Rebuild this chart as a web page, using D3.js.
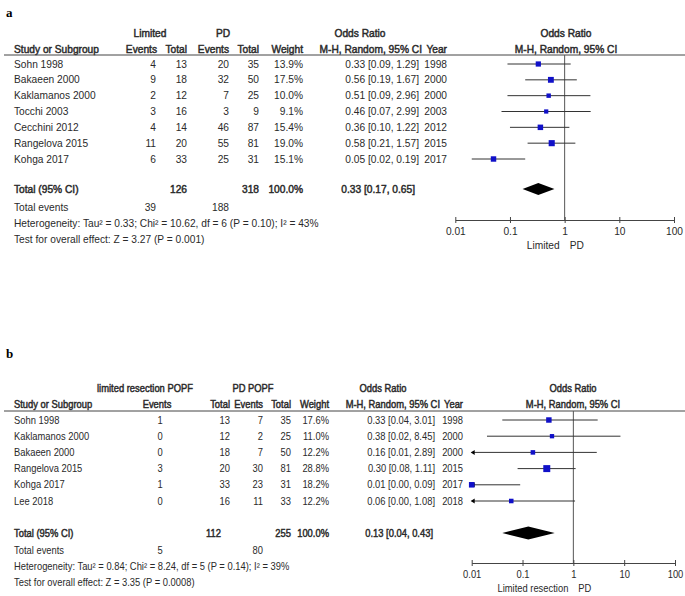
<!DOCTYPE html>
<html><head><meta charset="utf-8">
<script src="https://cdn.jsdelivr.net/npm/d3@7"></script>
<style>
body{margin:0;background:#fff;}
svg{display:block;}
text{font-family:"Liberation Sans",Arial,sans-serif;fill:#2a2a2a;}
.b{stroke:#2a2a2a;stroke-width:0.45px;}
</style></head>
<body>
<svg id="c" width="685" height="596"></svg>
<script>
// ---------- Panel a data ----------
const studiesA = ["Sohn 1998","Bakaeen 2000","Kaklamanos 2000","Tocchi 2003","Cecchini 2012","Rangelova 2015","Kohga 2017"];
const limEventsA = [4,9,2,3,4,11,6];
const limTotalA = [13,18,12,16,14,20,33];
const pdEventsA = [20,32,7,3,46,55,25];
const pdTotalA = [35,50,25,9,87,81,31];
const weightA = [13.9,17.5,10.0,9.1,15.4,19.0,15.1];
const orA = [0.33,0.56,0.51,0.46,0.36,0.58,0.05];
const lowA = [0.09,0.19,0.09,0.07,0.10,0.21,0.02];
const highA = [1.29,1.67,2.96,2.99,1.22,1.57,0.19];
const yearA = [1998,2000,2000,2003,2012,2015,2017];
const totalA = {lim:126, pd:318, limEv:39, pdEv:188, or:0.33, lo:0.17, hi:0.65};
const hetA = "Heterogeneity: Tau² = 0.33; Chi² = 10.62, df = 6 (P = 0.10); I² = 43%";
const testA = "Test for overall effect: Z = 3.27 (P = 0.001)";

// ---------- Panel b data ----------
const studiesB = ["Sohn 1998","Kaklamanos 2000","Bakaeen 2000","Rangelova 2015","Kohga 2017","Lee 2018"];
const limEventsB = [1,0,0,3,1,0];
const limTotalB = [13,12,18,20,33,16];
const pdEventsB = [7,2,7,30,23,11];
const pdTotalB = [35,25,50,81,31,33];
const weightB = [17.6,11.0,12.2,28.8,18.2,12.2];
const orB = [0.33,0.38,0.16,0.30,0.01,0.06];
const lowB = [0.04,0.02,0.01,0.08,0.00,0.00];
const highB = [3.01,8.45,2.89,1.11,0.09,1.08];
const yearB = [1998,2000,2000,2015,2017,2018];
const totalB = {lim:112, pd:255, limEv:5, pdEv:80, or:0.13, lo:0.04, hi:0.43};
const hetB = "Heterogeneity: Tau² = 0.84; Chi² = 8.24, df = 5 (P = 0.14); I² = 39%";
const testB = "Test for overall effect: Z = 3.35 (P = 0.0008)";

const tickVals = [0.01,0.1,1,10,100];

const svg = d3.select("#c");
const fmt = d3.format(".2f");
const fmtW = d3.format(".1f");

function panel(cfg){
  const g = svg.append("g").style("font-size",cfg.fs+"px");
  const n = cfg.studies.length;
  const y = d3.scaleLinear().domain([0,n-1]).range([cfg.rowTop,cfg.rowBot]);
  const x = d3.scaleLog().domain([0.01,100]).range([cfg.x0,cfg.x1]).clamp(true);
  const C = cfg.cols;
  const sx = cfg.sx;
  const t = (xx,yy,s,anchor,cls)=>g.append("text")
      .attr("transform",`translate(${xx},${yy}) scale(${sx},1)`)
      .attr("dy","0.35em")
      .attr("text-anchor",anchor||"start").attr("class",cls||null).text(s);

  // panel letter
  g.append("text").attr("x",6).attr("y",cfg.letterY).attr("dy","0.35em")
    .style("font-family","'Liberation Serif',serif").style("font-size","13px").style("font-weight","bold").style("fill","#000")
    .text(cfg.letter);

  // headers
  t(C.grp1C,cfg.h1,cfg.grp1,"middle","b");
  t(C.grp2C,cfg.h1,cfg.grp2,"middle","b");
  t(C.orC,cfg.h1,"Odds Ratio","middle","b");
  t(C.plotC,cfg.h1,"Odds Ratio","middle","b");
  t(C.study,cfg.h2,"Study or Subgroup","start","b");
  t(C.ev1,cfg.h2,"Events",C.ev1Anchor,"b");
  t(C.tot1,cfg.h2,"Total","end","b");
  t(C.ev2,cfg.h2,"Events","end","b");
  t(C.tot2,cfg.h2,"Total","end","b");
  t(C.w,cfg.h2,"Weight","end","b");
  t(C.orH,cfg.h2,"M-H, Random, 95% CI","end","b");
  t(C.yr,cfg.h2,"Year","end","b");
  t(C.plotC,cfg.h2,"M-H, Random, 95% CI","middle","b");
  g.append("line").attr("x1",4).attr("x2",685).attr("y1",cfg.lineY).attr("y2",cfg.lineY)
    .attr("stroke","#444").attr("stroke-width",1);

  // rows
  cfg.studies.forEach((s,i)=>{
    const yy = y(i);
    t(C.study,yy,s);
    t(C.ev1v,yy,cfg.limEv[i],C.ev1Anchor);
    t(C.tot1,yy,cfg.limTot[i],"end");
    t(C.ev2,yy,cfg.pdEv[i],"end");
    t(C.tot2,yy,cfg.pdTot[i],"end");
    t(C.w,yy,fmtW(cfg.w[i])+"%","end");
    t(C.orV,yy,`${fmt(cfg.or[i])} [${fmt(cfg.lo[i])}, ${fmt(cfg.hi[i])}]`,"end");
    t(C.yr,yy,cfg.yr[i],"end");
  });

  // vertical line at 1
  g.append("line").attr("x1",x(1)).attr("x2",x(1)).attr("y1",cfg.lineY).attr("y2",cfg.axisY)
    .attr("stroke","#555").attr("stroke-width",1);

  // CI lines + squares
  cfg.studies.forEach((s,i)=>{
    const yy = y(i);
    const lo = cfg.lo[i], hi = cfg.hi[i];
    const x1 = x(Math.max(lo,0.01)), x2 = x(Math.min(hi,100));
    g.append("line").attr("x1",x1).attr("x2",x2).attr("y1",yy).attr("y2",yy)
      .attr("stroke","#333").attr("stroke-width",1);
    if(cfg.arrows.includes(i)){
      g.append("path").attr("d",`M${x1-1},${yy} l4,-2.5 l0,5 z`).attr("fill","#000");
    }
    const side = cfg.k*Math.sqrt(cfg.w[i]);
    const cx = x(Math.max(cfg.or[i],0.01));
    g.append("rect").attr("x",cx-side/2).attr("y",yy-side/2).attr("width",side).attr("height",side)
      .attr("fill","#1010c8");
  });

  // total row
  const ty = cfg.totY;
  t(C.study,ty,"Total (95% CI)","start","b");
  t(C.tot1T,ty,cfg.total.lim,"end","b");
  t(C.tot2,ty,cfg.total.pd,"end","b");
  t(C.w,ty,"100.0%","end","b");
  t(C.orT,ty,`${fmt(cfg.total.or)} [${fmt(cfg.total.lo)}, ${fmt(cfg.total.hi)}]`,"end","b");
  const xl = x(cfg.total.lo), xh = x(cfg.total.hi), xm = x(cfg.total.or);
  g.append("path").attr("d",`M${xl},${ty} L${xm},${ty-cfg.dh} L${xh},${ty} L${xm},${ty+cfg.dh} Z`).attr("fill","#000");

  t(C.study,cfg.evY,"Total events");
  t(C.ev1v,cfg.evY,cfg.total.limEv,C.ev1Anchor);
  t(C.ev2,cfg.evY,cfg.total.pdEv,"end");
  t(C.study,cfg.hetY,cfg.het);
  t(C.study,cfg.testY,cfg.test);

  // axis
  const ax = d3.axisBottom(x).tickValues(tickVals).tickFormat(d3.format("~g")).tickSizeOuter(0).tickSizeInner(3).tickPadding(5);
  const ag = g.append("g").attr("transform",`translate(0,${cfg.axisY})`).call(ax);
  ag.select(".domain").attr("stroke","#444");
  ag.selectAll(".tick line").attr("y1",-3).attr("y2",3).attr("stroke","#444");
  ag.selectAll(".tick text").style("font-size",cfg.fs+"px").style("fill","#2a2a2a")
    .style("font-family","'Liberation Sans',Arial,sans-serif")
    .attr("transform",`scale(${sx},1)`);
  // favour labels
  t(x(1)-5,cfg.favY,cfg.favL,"end");
  t(x(1)+5,cfg.favY,cfg.favR,"start");
}

panel({
  letter:"a", letterY:12, fs:10.2, sx:1,
  studies:studiesA, limEv:limEventsA, limTot:limTotalA, pdEv:pdEventsA, pdTot:pdTotalA,
  w:weightA, or:orA, lo:lowA, hi:highA, yr:yearA, total:totalA, het:hetA, test:testA,
  grp1:"Limited", grp2:"PD",
  rowTop:64, rowBot:159, h1:33, h2:49, lineY:55,
  totY:189, evY:207, hetY:223, testY:239,
  x0:455.3, x1:674, axisY:220, favY:245, favL:"Limited", favR:"PD",
  k:1.4, dh:6, arrows:[],
  cols:{study:14, grp1C:150, grp2C:223, ev1:157, ev1v:156, ev1Anchor:"end", tot1:187, tot1T:187, ev2:229, tot2:259, w:303, orC:360, orH:422, orV:419, orT:415, yr:447, plotC:566}
});

panel({
  letter:"b", letterY:353, fs:10.2, sx:0.92,
  studies:studiesB, limEv:limEventsB, limTot:limTotalB, pdEv:pdEventsB, pdTot:pdTotalB,
  w:weightB, or:orB, lo:lowB, hi:highB, yr:yearB, total:totalB, het:hetB, test:testB,
  grp1:"limited resection POPF", grp2:"PD POPF",
  rowTop:420, rowBot:501, h1:388, h2:404, lineY:411,
  totY:533, evY:550, hetY:566, testY:582,
  x0:471.7, x1:675, axisY:563, favY:588, favL:"Limited resection", favR:"PD",
  k:1.3, dh:6.5, arrows:[2,4,5],
  cols:{study:14, grp1C:145, grp2C:253, ev1:157, ev1v:160, ev1Anchor:"middle", tot1:230, tot1T:221, ev2:263, tot2:291, w:329, orC:383, orH:440, orV:435, orT:433, yr:463, plotC:573}
});
</script>
</body></html>
